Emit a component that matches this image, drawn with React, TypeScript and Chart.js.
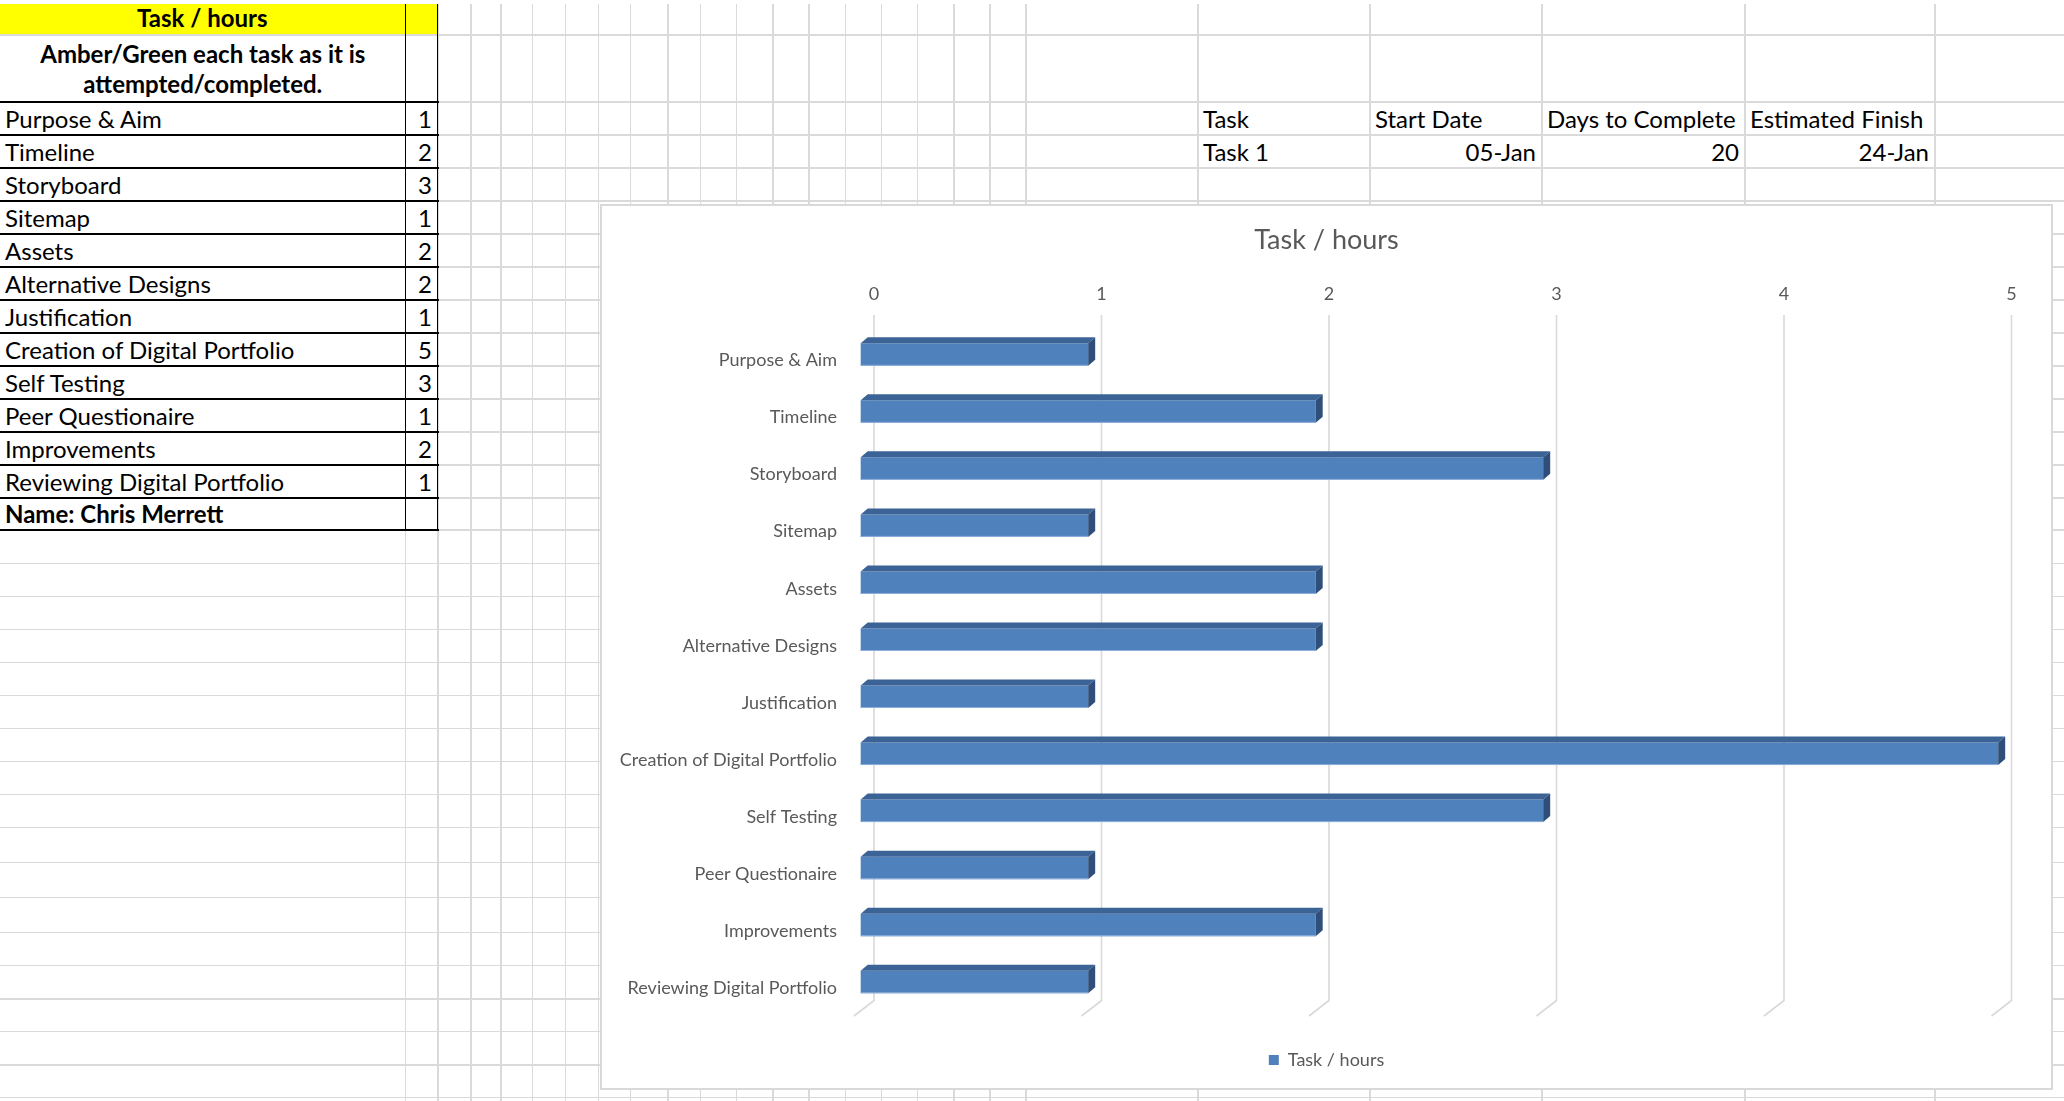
import React, { useEffect, useRef } from 'react';
import { Chart, registerables } from 'chart.js';

Chart.register(...registerables);

// ---------- data ----------
const categories = [
  'Purpose & Aim',
  'Timeline',
  'Storyboard',
  'Sitemap',
  'Assets',
  'Alternative Designs',
  'Justification',
  'Creation of Digital Portfolio',
  'Self Testing',
  'Peer Questionaire',
  'Improvements',
  'Reviewing Digital Portfolio',
];
const hours = [1, 2, 3, 1, 2, 2, 1, 5, 3, 1, 2, 1];
const xTicks = [0, 1, 2, 3, 4, 5];
const seriesName = 'Task / hours';
const chartTitle = 'Task / hours';

const sheetHeader = 'Task / hours';
const sheetNote = ['Amber/Green each task as it is', 'attempted/completed.'];
const sheetName = 'Name: Chris Merrett';
const planHeaders = ['Task', 'Start Date', 'Days to Complete', 'Estimated Finish'];
const planRow = ['Task 1', '05-Jan', '20', '24-Jan'];

// ---------- sheet layout ----------
const COLS = [0, 405.7, 438, 471, 501, 532.7, 565.7, 598.7, 630.7, 668, 700.7, 736.7, 773, 809, 845.7, 881.7, 917.7, 954, 990, 1026, 1198, 1370, 1542, 1745, 1935, 2064];
const ROWS = [4, 35, 102, 135, 168, 201, 234, 267, 300, 333, 366, 399, 432, 465, 498, 530, 563.7, 596.7, 629.7, 662.7, 695.7, 728.7, 761.7, 794.7, 827.7, 862.7, 897.7, 932.7, 965.7, 999, 1031.7, 1065, 1097.7];

const CELL_FONT = 'Lato, "Open Sans", sans-serif';
const CHART_FONT = 'Lato';
const GRAY_TXT = '#595959';

function Cell(props: any) {
  const { x0, x1, y0, y1, text, align = 'left', bold = false, bg, pb = 1.5 } = props;
  return (
    <div
      style={{
        position: 'absolute',
        left: x0,
        top: y0,
        width: x1 - x0,
        height: y1 - y0,
        display: 'flex',
        alignItems: 'flex-end',
        justifyContent: align === 'right' ? 'flex-end' : align === 'center' ? 'center' : 'flex-start',
        padding: `0 6px ${pb}px 5px`,
        boxSizing: 'border-box',
        fontFamily: CELL_FONT,
        fontSize: 24,
        fontWeight: bold ? 700 : 400,
        lineHeight: 1.2,
        whiteSpace: 'nowrap',
        color: '#000',
        background: bg,
      }}
    >
      {text}
    </div>
  );
}

function TaskChart() {
  const ref = useRef<HTMLCanvasElement>(null);
  useEffect(() => {
    const DX = 7;
    const DY = 6;
    const bar3d = {
      id: 'bar3d',
      afterDatasetsDraw(chart: any) {
        const ctx = chart.ctx;
        const meta = chart.getDatasetMeta(0);
        ctx.save();
        meta.data.forEach((el: any) => {
          const { x, y, base, height } = el.getProps(['x', 'y', 'base', 'height'], true);
          const l = Math.min(x, base);
          const r = Math.max(x, base);
          const t = y - height / 2;
          const b = y + height / 2;
          ctx.fillStyle = '#3c6396';
          ctx.beginPath();
          ctx.moveTo(l, t);
          ctx.lineTo(l + DX, t - DY);
          ctx.lineTo(r + DX, t - DY);
          ctx.lineTo(r, t);
          ctx.closePath();
          ctx.fill();
          ctx.fillStyle = '#2f4e79';
          ctx.beginPath();
          ctx.moveTo(r, t);
          ctx.lineTo(r + DX, t - DY);
          ctx.lineTo(r + DX, b - DY);
          ctx.lineTo(r, b);
          ctx.closePath();
          ctx.fill();
          ctx.fillStyle = '#8fb0db';
          ctx.fillRect(l, b - 1, r - l, 1);
        });
        ctx.restore();
      },
    };
    const wallGrid = {
      id: 'wallGrid',
      beforeDatasetsDraw(chart: any) {
        const { ctx, chartArea } = chart;
        const xs = chart.scales.x;
        ctx.save();
        ctx.strokeStyle = '#d9d9d9';
        ctx.lineWidth = 1.6;
        xs.ticks.forEach((t: any) => {
          const px = xs.getPixelForValue(t.value);
          ctx.beginPath();
          ctx.moveTo(px, chartArea.top - 11);
          ctx.lineTo(px, chartArea.bottom - 10);
          ctx.lineTo(px - 20, chartArea.bottom + 5.5);
          ctx.stroke();
        });
        ctx.restore();
      },
    };

    const titleTop = 17.8;
    const titleSize = 27;
    const titleBottom = titleTop + titleSize * 1.2;

    const chart = new Chart(ref.current as HTMLCanvasElement, {
      type: 'bar',
      data: {
        labels: categories,
        datasets: [
          {
            label: seriesName,
            data: hours.map((v) => [0, v]) as any,
            backgroundColor: '#4f81bd',
            borderWidth: 0,
            xAxisID: 'xb',
            yAxisID: 'y',
            barPercentage: 0.395,
            categoryPercentage: 1,
            clip: false as any,
          },
        ],
      },
      options: {
        indexAxis: 'y',
        responsive: false,
        animation: false,
        layout: { padding: { top: 0, left: 0, right: 0, bottom: 9 } },
        plugins: {
          title: {
            display: true,
            text: chartTitle,
            color: GRAY_TXT,
            font: { family: CHART_FONT, size: titleSize, weight: 'normal' as any },
            padding: { top: titleTop, bottom: 0 },
          },
          legend: {
            position: 'bottom',
            labels: {
              boxWidth: 10,
              boxHeight: 10,
              color: GRAY_TXT,
              font: { family: CHART_FONT, size: 18 },
            },
          },
          tooltip: { enabled: false },
        },
        scales: {
          x: {
            type: 'linear',
            position: 'top',
            min: xTicks[0],
            max: xTicks[xTicks.length - 1],
            afterBuildTicks: (s: any) => {
              s.ticks = xTicks.map((v) => ({ value: v }));
            },
            ticks: { color: GRAY_TXT, font: { family: CHART_FONT, size: 18 }, padding: 21, maxRotation: 0 },
            grid: { display: false, drawTicks: false },
            border: { display: false },
            afterFit: (s: any) => {
              s.height = 120 - titleBottom;
            },
          },
          xb: {
            type: 'linear',
            position: 'bottom',
            min: 0.0585,
            max: 5.0585,
            ticks: { display: false },
            grid: { display: false, drawTicks: false },
            border: { display: false },
            afterFit: (s: any) => {
              s.height = 30.5;
            },
          },
          y: {
            type: 'category',
            position: 'left',
            ticks: { color: GRAY_TXT, font: { family: CHART_FONT, size: 18 }, padding: 37, labelOffset: 6 },
            grid: { display: false, drawTicks: false },
            border: { display: false },
            afterFit: (s: any) => {
              s.width = 272;
            },
          },
          yr: {
            type: 'linear',
            position: 'right',
            min: 0,
            max: 1,
            ticks: { display: false },
            grid: { display: false, drawTicks: false },
            border: { display: false },
            afterFit: (s: any) => {
              s.width = 39.5;
            },
          },
        } as any,
      },
      plugins: [wallGrid, bar3d],
    });
    return () => chart.destroy();
  }, []);
  return <canvas ref={ref} width={1449} height={882} style={{ display: 'block', width: 1449, height: 882 }} />;
}

export default function App() {
  const lines: any[] = [];
  // sheet gridlines
  COLS.slice(1, -1).forEach((x, i) => {
    lines.push(
      <div key={'v' + i} style={{ position: 'absolute', left: x - 0.75, top: 4, width: 1.5, height: 1101 - 4, background: '#dadada' }} />
    );
  });
  ROWS.slice(1).forEach((y, i) => {
    lines.push(
      <div key={'h' + i} style={{ position: 'absolute', left: 0, top: y - 0.75, width: 2064, height: 1.5, background: '#dadada' }} />
    );
  });
  // table borders (black)
  const borders: any[] = [];
  ROWS.slice(2, 16).forEach((y, i) => {
    borders.push(
      <div key={'bh' + i} style={{ position: 'absolute', left: 0, top: y - 0.75, width: 438.5, height: 1.5, background: '#000' }} />
    );
  });
  [405.7, 437.7].forEach((x, i) => {
    borders.push(
      <div key={'bv' + i} style={{ position: 'absolute', left: x - 0.75, top: 4, width: 1.5, height: 530 - 4, background: '#000' }} />
    );
  });

  const cells: any[] = [];
  categories.forEach((c, i) => {
    const y0 = ROWS[i + 2];
    const y1 = ROWS[i + 3];
    cells.push(<Cell key={'c' + i} x0={0} x1={405.7} y0={y0} y1={y1} text={c} />);
    cells.push(<Cell key={'n' + i} x0={405.7} x1={438} y0={y0} y1={y1} text={String(hours[i])} align="right" />);
  });

  const planCols = [1198, 1370, 1542, 1745, 1935];
  planHeaders.forEach((h, i) => {
    cells.push(<Cell key={'ph' + i} x0={planCols[i]} x1={planCols[i + 1]} y0={102} y1={135} text={h} />);
  });
  planRow.forEach((h, i) => {
    cells.push(
      <Cell key={'pr' + i} x0={planCols[i]} x1={planCols[i + 1]} y0={135} y1={168} text={h} align={i === 0 ? 'left' : 'right'} />
    );
  });

  return (
    <div style={{ position: 'fixed', left: 0, top: 0, width: 2064, height: 1101, background: '#fff', overflow: 'hidden' }}>
      <div style={{ position: 'absolute', left: 0, top: 4, width: 438, height: 31, background: '#ffff00' }} />
      {lines}
      {borders}
      <Cell x0={0} x1={405.7} y0={4} y1={35} text={sheetHeader} align="center" bold pb={2} />
      <div
        style={{
          position: 'absolute',
          left: 0,
          top: 35,
          width: 405.7,
          height: 67,
          boxSizing: 'border-box',
          paddingBottom: 3.3,
          display: 'flex',
          flexDirection: 'column',
          justifyContent: 'flex-end',
          alignItems: 'center',
          fontFamily: CELL_FONT,
          fontSize: 24,
          fontWeight: 700,
          lineHeight: '30px',
          color: '#000',
          whiteSpace: 'nowrap',
        }}
      >
        <div>{sheetNote[0]}</div>
        <div>{sheetNote[1]}</div>
      </div>
      {cells}
      <Cell x0={0} x1={405.7} y0={498} y1={530} text={sheetName} bold />
      <div
        style={{
          position: 'absolute',
          left: 600,
          top: 204,
          width: 1453,
          height: 886,
          boxSizing: 'border-box',
          border: '2px solid #d9d9d9',
          background: '#fff',
        }}
      >
        <TaskChart />
      </div>
    </div>
  );
}
